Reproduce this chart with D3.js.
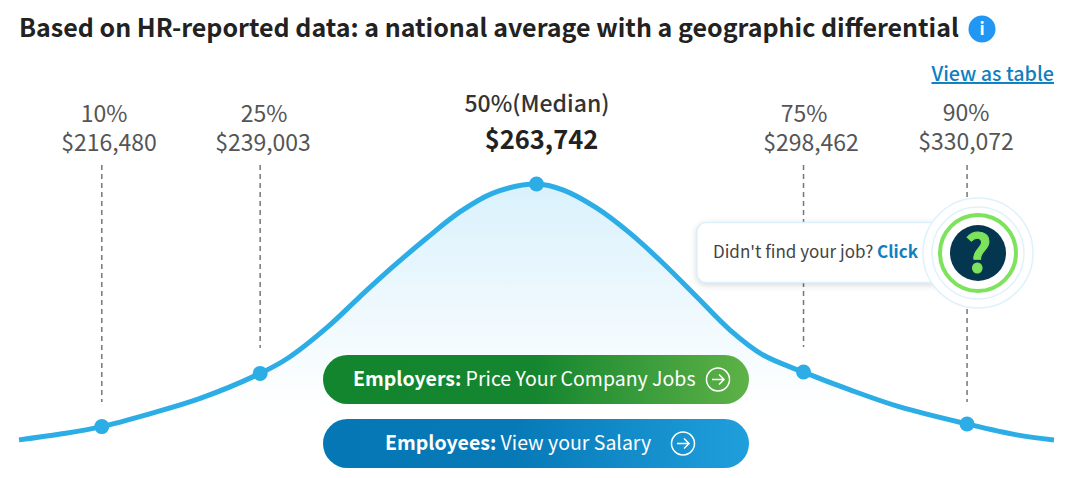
<!DOCTYPE html>
<html>
<head>
<meta charset="utf-8">
<script src="https://cdn.jsdelivr.net/npm/d3@7"></script>
<style>
  html, body { margin: 0; padding: 0; background: #fff; }
  svg { display: block; }
  text { font-family: "Noto Sans CJK SC", "Noto Sans", sans-serif; }
</style>
</head>
<body>
<div id="chart"></div>
<script>
// curve (position 0-100 along the plot, height 0-100)
const curveX = [0, 4.0, 8.0, 12.7, 17.5, 23.3, 26.0, 29.8, 32.9, 36.1, 39.4, 42.6, 45.8, 50.0, 52.6, 55.8, 59.0, 62.2, 65.5, 68.7, 71.9, 75.8, 80.3, 85.1, 91.6, 96.4, 100]
const curveY = [3.8, 6.0, 8.8, 13.7, 19.4, 28.8, 34.6, 46.2, 57.5, 68.8, 79.7, 89.5, 96.6, 100, 97.7, 91.0, 81.6, 70.3, 57.5, 45.1, 35.7, 29.3, 22.6, 16.2, 9.8, 5.7, 3.8]

// percentiles
const pctLabels = ["10%", "25%", "50%(Median)", "75%", "90%"]
const pctSalaries = ["$216,480", "$239,003", "$263,742", "$298,462", "$330,072"]
const pctX = [8.0, 23.3, 50.0, 75.8, 91.6]
const pctY = [8.8, 28.8, 100, 29.3, 9.8]

const width = 1080, height = 478

const svg = d3.select("#chart").append("svg")
    .attr("width", width)
    .attr("height", height)

const xScale = d3.scaleLinear().domain([0, 100]).range([19, 1054])
const yScale = d3.scaleLinear().domain([0, 100]).range([450, 184])

const defs = svg.append("defs")

function addGradient(id, vertical, stops) {
    const g = defs.append("linearGradient").attr("id", id)
        .attr("x1", "0").attr("y1", "0")
        .attr("x2", vertical ? "0" : "1").attr("y2", vertical ? "1" : "0")
    stops.forEach(s => g.append("stop").attr("offset", s[0]).attr("stop-color", s[1]))
}
addGradient("fillGrad", true, [["0", "#d9f1fc"], ["0.85", "#ffffff"]])
addGradient("greenGrad", false, [["0", "#14852f"], ["0.5", "#15862f"], ["1", "#5eb247"]])
addGradient("blueGrad", false, [["0", "#0577b5"], ["0.45", "#0779b7"], ["1", "#1f9fdc"]])

const pts = curveX.map((d, i) => [d, curveY[i]])

// area under the curve
const area = d3.area()
    .x(d => xScale(d[0]))
    .y0(yScale(0))
    .y1(d => yScale(d[1]))
    .curve(d3.curveCatmullRom)

svg.append("path").datum(pts)
    .attr("d", area)
    .attr("fill", "url(#fillGrad)")

// dashed lines
const dashEnd = [402, 348, null, 347, 402]
pctX.forEach((d, i) => {
    if (i == 2) return
    svg.append("line")
        .attr("x1", xScale(d)).attr("x2", xScale(d))
        .attr("y1", 165).attr("y2", dashEnd[i])
        .attr("stroke", "#777")
        .attr("stroke-width", 1.5)
        .attr("stroke-dasharray", "5 4")
})

// curve line
const line = d3.line()
    .x(d => xScale(d[0]))
    .y(d => yScale(d[1]))
    .curve(d3.curveCatmullRom)

svg.append("path").datum(pts)
    .attr("d", line)
    .attr("fill", "none")
    .attr("stroke", "#2cade6")
    .attr("stroke-width", 5)

// dots
svg.selectAll("circle.dot")
    .data(pctX)
    .enter().append("circle")
    .attr("class", "dot")
    .attr("cx", d => xScale(d))
    .attr("cy", (d, i) => yScale(pctY[i]))
    .attr("r", 7.5)
    .attr("fill", "#2cade6")

// title
svg.append("text")
    .attr("x", 19).attr("y", 37)
    .attr("font-size", 25)
    .attr("font-weight", 700)
    .attr("fill", "#222")
    .text("Based on HR-reported data: a national average with a geographic differential")

// info icon
svg.append("circle").attr("cx", 982).attr("cy", 29).attr("r", 13.5).attr("fill", "#2196f3")
svg.append("text")
    .attr("x", 982).attr("y", 35)
    .attr("text-anchor", "middle")
    .attr("font-size", 17)
    .attr("font-weight", 700)
    .attr("fill", "#fff")
    .text("i")

// view as table
svg.append("text")
    .attr("x", 1054).attr("y", 81)
    .attr("text-anchor", "end")
    .attr("font-size", 19.7)
    .attr("font-weight", 500)
    .attr("fill", "#0f7fc0")
    .attr("text-decoration", "underline")
    .text("View as table")

// percentile labels
const labelCx = [104, 264, 537, 804, 966]
const salaryCx = [109, 263, 541.5, 811, 966]
const labelY = [122, 122, 112, 122, 121]
const salaryY = [151, 151, 149, 151, 150]
pctLabels.forEach((d, i) => {
    const mid = i == 2
    svg.append("text")
        .attr("x", labelCx[i]).attr("y", labelY[i])
        .attr("text-anchor", "middle")
        .attr("font-size", 23)
        .attr("font-weight", mid ? 500 : 400)
        .attr("fill", mid ? "#333" : "#555")
        .text(d)
    svg.append("text")
        .attr("x", salaryCx[i]).attr("y", salaryY[i])
        .attr("text-anchor", "middle")
        .attr("font-size", mid ? 25.5 : 23)
        .attr("font-weight", mid ? 700 : 400)
        .attr("fill", mid ? "#222" : "#555")
        .text(pctSalaries[i])
})

// buttons
function button(y, grad, bold, rest, textX, cx) {
    svg.append("rect")
        .attr("x", 323).attr("y", y)
        .attr("width", 426).attr("height", 49)
        .attr("rx", 24.5)
        .attr("fill", grad)
    const t = svg.append("text")
        .attr("x", textX).attr("y", y + 31)
        .attr("font-size", 19.5)
        .attr("fill", "#fff")
    t.append("tspan").attr("font-weight", 700).text(bold)
    t.append("tspan").text(" " + rest)
    const cy = y + 24.5
    svg.append("circle")
        .attr("cx", cx).attr("cy", cy).attr("r", 11.5)
        .attr("fill", "none").attr("stroke", "#fff").attr("stroke-width", 1.5)
    svg.append("path")
        .attr("d", `M${cx - 6},${cy}H${cx + 6}M${cx + 1},${cy - 5}L${cx + 6},${cy}L${cx + 1},${cy + 5}`)
        .attr("fill", "none").attr("stroke", "#fff").attr("stroke-width", 1.5)
}
button(355, "url(#greenGrad)", "Employers:", "Price Your Company Jobs", 353, 718)
button(419, "url(#blueGrad)", "Employees:", "View your Salary", 385, 683)

// help bubble
svg.append("rect")
    .attr("x", 697).attr("y", 222.5)
    .attr("width", 270).attr("height", 60)
    .attr("rx", 9)
    .attr("fill", "#fff")
    .attr("stroke", "#dcf1fb")
    .attr("stroke-width", 1.5)
    .style("filter", "drop-shadow(0 2px 3px rgba(0,0,0,0.15))")

const help = svg.append("text")
    .attr("x", 713).attr("y", 258)
    .attr("font-size", 17)
    .attr("fill", "#444")
help.append("tspan").text("Didn't find your job? ")
help.append("tspan").attr("font-weight", 700).attr("fill", "#0f7fc0").text("Click")

const rings = [[55, "#fff", "#dff2fb"], [46, "none", "#dff2fb"], [38, "#fff", "#7ee35c"]]
rings.forEach(r => {
    svg.append("circle")
        .attr("cx", 978).attr("cy", 253).attr("r", r[0])
        .attr("fill", r[1]).attr("stroke", r[2])
        .attr("stroke-width", r[0] == 38 ? 4 : 1.5)
})
svg.append("circle").attr("cx", 978).attr("cy", 253).attr("r", 28).attr("fill", "#04364f")
svg.append("text")
    .attr("x", 978).attr("y", 272)
    .attr("text-anchor", "middle")
    .attr("font-size", 52)
    .attr("font-weight", 700)
    .attr("fill", "#7ee35c")
    .attr("stroke", "#7ee35c")
    .attr("stroke-width", 1)
    .text("?")
</script>
</body>
</html>
